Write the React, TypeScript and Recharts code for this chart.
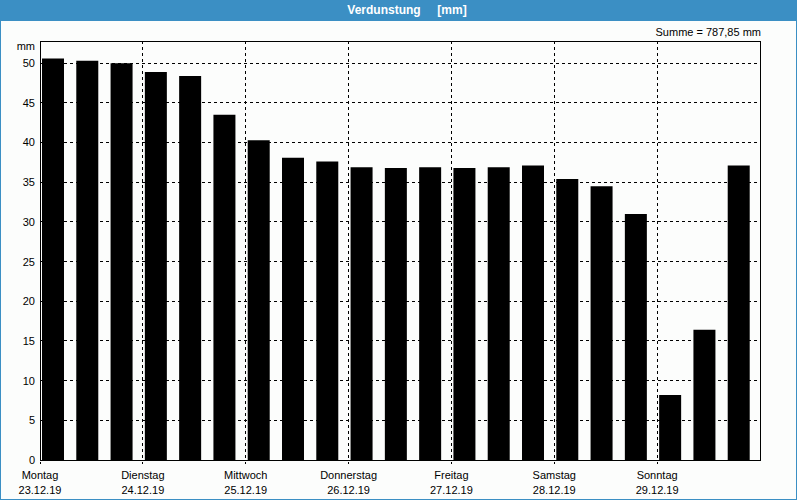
import { BarChart, Bar, XAxis, YAxis, CartesianGrid, ReferenceArea } from 'recharts'

// Verdunstung, 3 values per day (8 h steps), 23.12.19 – 29.12.19
const VALUES = [
  50.6, 50.3, 50.0, 48.9, 48.4, 43.5, 40.3, 38.1, 37.6, 36.9, 36.8,
  36.9, 36.8, 36.9, 37.1, 35.4, 34.5, 31.0, 8.2, 16.4, 37.1,
]
const DAY_NAMES = ['Montag', 'Dienstag', 'Mittwoch', 'Donnerstag', 'Freitag', 'Samstag', 'Sonntag']
const DAY_DATES = ['23.12.19', '24.12.19', '25.12.19', '26.12.19', '27.12.19', '28.12.19', '29.12.19']
const Y_TICKS = [0, 5, 10, 15, 20, 25, 30, 35, 40, 45, 50]
const Y_MAX = 52.8
const TOTAL = '787,85'
const PER_DAY = 3

const data = VALUES.map((v, i) => ({ slot: i, day: i / PER_DAY, value: v }))
const dayTicks = DAY_NAMES.map((_, i) => i)

const FONT = '"Liberation Sans", Arial, sans-serif'
const BLUE = '#3b8fc4'

// ── Two-line day tick ────────────────────────────────────────────────────────

// eslint-disable-next-line @typescript-eslint/no-explicit-any
const DayTick = ({ x, y, payload }: any) => {
  const i = payload.value as number
  return (
    <g>
      <text x={x} y={y + 15} textAnchor="middle" fontSize={11} fontFamily={FONT} fill="#000">
        {DAY_NAMES[i]}
      </text>
      <text x={x} y={y + 30} textAnchor="middle" fontSize={11} fontFamily={FONT} fill="#000">
        {DAY_DATES[i]}
      </text>
    </g>
  )
}

export default function App() {
  return (
    <div style={{ position: 'relative', width: 800, height: 500, fontFamily: FONT }}>
      <style>{'body{margin:0;background:#fff}'}</style>
      <div
        style={{
          position: 'absolute', left: 0, top: 0, width: 797, height: 500, boxSizing: 'border-box',
          border: `1px solid ${BLUE}`, background: '#fcfdfc',
        }}
      />
      <div
        style={{
          position: 'absolute', left: 0, top: 0, width: 797, height: 21, background: BLUE,
          color: '#fff', fontWeight: 'bold', fontSize: 12, lineHeight: '21px', textAlign: 'center',
          whiteSpace: 'pre', paddingLeft: 17, boxSizing: 'border-box',
        }}
      >
        {'Verdunstung     [mm]'}
      </div>
      <div style={{ position: 'absolute', left: 500, width: 261, top: 26, fontSize: 11, lineHeight: '13px', textAlign: 'right' }}>
        Summe = {TOTAL} mm
      </div>
      <div style={{ position: 'absolute', left: 0, width: 35, top: 40, fontSize: 11, lineHeight: '13px', textAlign: 'right' }}>
        mm
      </div>
      <div style={{ position: 'absolute', left: 0, top: 0 }}>
        <BarChart width={800} height={500} data={data} margin={{ top: 41, right: 40, left: 0, bottom: 0 }}>
          <CartesianGrid xAxisId="days" stroke="#000" strokeDasharray="3 3" shapeRendering="crispEdges" />
          <XAxis
            xAxisId="days"
            dataKey="day"
            type="number"
            domain={[0, DAY_NAMES.length]}
            allowDataOverflow
            ticks={dayTicks}
            interval={0}
            height={40}
            tickSize={4}
            tickMargin={0}
            axisLine={{ stroke: '#000', shapeRendering: 'crispEdges' }}
            tickLine={{ stroke: '#000', strokeDasharray: '2 2', shapeRendering: 'crispEdges' }}
            tick={<DayTick />}
          />
          <XAxis
            xAxisId="bars"
            dataKey="slot"
            type="category"
            orientation="top"
            hide
            padding={{ left: -4, right: 4 }}
          />
          <YAxis
            domain={[0, Y_MAX]}
            ticks={Y_TICKS}
            allowDataOverflow
            width={40}
            tickSize={0}
            tickMargin={5}
            axisLine={{ stroke: '#000', shapeRendering: 'crispEdges' }}
            tickLine={false}
            tick={{ fill: '#000', fontSize: 11, fontFamily: FONT }}
          />
          <Bar xAxisId="bars" dataKey="value" fill="#000" barSize={22} isAnimationActive={false} />
          <ReferenceArea
            xAxisId="days"
            x1={0}
            x2={DAY_NAMES.length}
            y1={0}
            y2={Y_MAX}
            fill="none"
            stroke="#000"
            shapeRendering="crispEdges"
            ifOverflow="visible"
          />
        </BarChart>
      </div>
    </div>
  )
}
